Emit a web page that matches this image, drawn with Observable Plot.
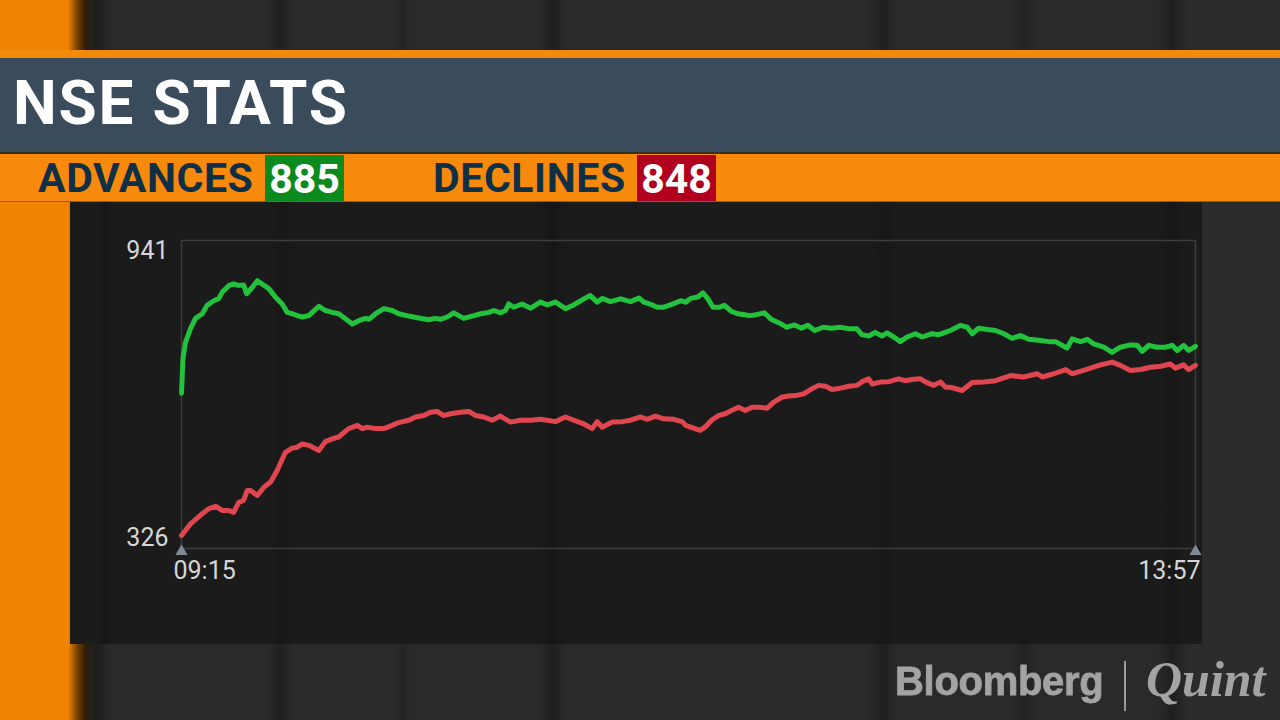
<!DOCTYPE html>
<html>
<head>
<meta charset="utf-8">
<script src="https://cdn.jsdelivr.net/npm/d3@7"></script>
<script src="https://cdn.jsdelivr.net/npm/@observablehq/plot@0.6"></script>
<style>
  html, body { margin: 0; padding: 0; }
  body { width: 1280px; height: 720px; overflow: hidden; position: relative; font-family: Roboto, "Noto Sans", sans-serif; }
  .bg { position: absolute; left: 0; top: 0; width: 1280px; height: 720px;
    background: linear-gradient(90deg, #2a2a2a 0px, #2a2a2a 88px, #1d1d1d 96px, #2a2a2a 110px, #2a2a2a 268px, #202020 280px, #2a2a2a 292px,
      #2a2a2a 395px, #232323 403px, #2a2a2a 411px, #2a2a2a 540px, #1e1e1e 553px, #2a2a2a 566px, #2a2a2a 868px, #1f1f1f 883px, #2a2a2a 898px,
      #2a2a2a 1012px, #212121 1024px, #2a2a2a 1036px, #2a2a2a 1158px, #1f1f1f 1172px, #2c2c2c 1190px, #2c2c2c 1280px); }
  .orange-left { position: absolute; left: 0; top: 0; width: 94px; height: 720px;
    background: linear-gradient(90deg, #f08400 0px, #f08400 68px, #7a4300 77px, #2a1a08 86px, rgba(30,30,30,0) 94px); }
  .topline { position: absolute; left: 0; top: 50px; width: 1280px; height: 8px; background: #f48a0a; }
  .slate { position: absolute; left: 0; top: 58px; width: 1280px; height: 94px; background: #3a4b5c; }
  .sep { position: absolute; left: 0; top: 152px; width: 1280px; height: 2px; background: #3a2d1c; }
  .band { position: absolute; left: 0; top: 154px; width: 1280px; height: 47px; background: #f7890c; border-bottom: 1px solid #a65a06; }
  .title { position: absolute; left: 13px; top: 67px; font: 700 62px Roboto, sans-serif; color: #ffffff; letter-spacing: 1.8px; line-height: 72px; }
  .lab { position: absolute; top: 154px; height: 47px; line-height: 47px; font: 700 41px Roboto, sans-serif; color: #0f2f47; letter-spacing: 0.6px; }
  .box { position: absolute; top: 155px; height: 46px; width: 79px; line-height: 46px; text-align: center; font: 700 41px Roboto, sans-serif; color: #ffffff; letter-spacing: 0px; }
  .panel { position: absolute; left: 70px; top: 202px; width: 1132px; height: 442px; background: #1b1b1b;
    background-image: linear-gradient(90deg, rgba(0,0,0,0) 0px, rgba(0,0,0,0) 28px, rgba(0,0,0,0.18) 36px, rgba(0,0,0,0) 44px,
      rgba(0,0,0,0) 200px, rgba(0,0,0,0.15) 212px, rgba(0,0,0,0) 224px, rgba(0,0,0,0) 470px, rgba(0,0,0,0.2) 483px, rgba(0,0,0,0) 496px,
      rgba(0,0,0,0) 800px, rgba(0,0,0,0.15) 813px, rgba(0,0,0,0) 826px, rgba(0,0,0,0) 1090px, rgba(0,0,0,0.15) 1102px, rgba(0,0,0,0) 1114px); }
  #chart { position: absolute; left: 70px; top: 202px; }
  .logo { position: absolute; color: #a3a3a3; filter: blur(0.5px); }
  .bb { left: 895px; font: 700 40px "Liberation Sans", Arial, sans-serif; letter-spacing: -0.3px; top: 659px; -webkit-text-stroke: 0.8px #a3a3a3; }
  .bar { position: absolute; left: 1124px; top: 661px; width: 2px; height: 50px; background: #9a9a9a; filter: blur(0.5px); }
  .qt { left: 1146px; font: italic 700 50px "Liberation Serif", "DejaVu Serif", serif; top: 650px; }
</style>
</head>
<body>
<div class="bg"></div>
<div class="orange-left"></div>
<div class="topline"></div>
<div class="slate"></div>
<div class="sep"></div>
<div class="band"></div>
<div class="title" id="title"></div>
<div class="lab" id="advLab" style="left:38px"></div>
<div class="box" id="advBox" style="left:265px;background:#0b8a1e"></div>
<div class="lab" id="decLab" style="left:433px"></div>
<div class="box" id="decBox" style="left:637px;background:#b0001e"></div>
<div class="panel"></div>
<div id="chart"></div>
<div class="logo bb">Bloomberg</div>
<div class="bar"></div>
<div class="logo qt">Quint</div>
<script>
// ---- Data ----
const titleText = "NSE STATS";
const advancesLabel = "ADVANCES";
const declinesLabel = "DECLINES";
const advancesCount = 885;
const declinesCount = 848;

// x = minutes after 09:15
const xTicks = [0, 282];
const xTickLabels = ["09:15", "13:57"];
const yTicks = [326, 941];

const advMinutes = [0,0.4,1.1,2.5,3.9,5.8,7.1,9.0,10.4,11.3,13.2,14.5,15.9,17.3,18.1,19.7,21.1,22.4,24.3,26.1,28.0,29.4,30.8,32.2,33.6,35.4,38.2,40.0,41.9,43.7,45.6,47.5,49.3,51.2,52.1,54.0,56.3,58.6,60.4,63.2,66.0,68.8,70.6,72.0,73.9,75.7,78.5,81.3,83.2,85.5,86.9,88.7,90.1,91.0,92.4,94.7,97.1,99.8,101.7,104.0,106.8,109.1,111.9,113.7,115.6,117.0,119.3,122.1,124.9,127.2,128.6,130.9,132.3,134.1,136.0,138.8,140.2,141.6,143.6,145.0,146.4,147.8,149.6,151.0,152.9,154.7,156.6,158.0,159.8,162.1,164.0,166.8,168.2,170.5,172.4,174.2,176.1,178.4,180.8,183.1,185.5,187.8,189.2,191.1,192.9,194.8,196.2,198.1,199.9,201.8,204.1,206.0,208.7,210.6,212.4,213.8,216.6,218.5,219.9,221.7,224.1,226.4,228.7,231.0,233.3,235.6,238.4,241.2,243.1,244.9,246.3,247.7,250.0,251.9,253.7,256.5,258.8,261.1,263.9,265.8,267.2,269.0,271.3,273.6,275.5,276.9,278.7,280.1,282];
const advValues = [634,709,743,773,795,805,823,833,838,851,866,869,866,867,848,862,876,869,859,841,826,808,805,801,798,801,821,812,808,805,794,783,790,795,793,805,816,812,805,800,796,792,795,793,798,807,795,801,805,808,812,807,812,826,819,826,817,830,824,830,816,824,837,844,830,838,831,837,831,839,830,824,819,819,824,833,830,838,841,850,837,819,819,823,810,805,803,801,803,807,793,783,776,781,774,780,769,776,774,776,773,773,760,757,765,757,764,755,745,755,762,755,762,760,765,769,780,776,762,774,771,769,762,752,758,750,748,745,745,737,731,751,745,750,740,733,722,733,738,737,724,737,733,733,737,726,737,726,735];

const decMinutes = [0,2.5,5.8,7.6,9.5,11.3,13.2,14.5,15.9,17.3,18.3,19.2,21.1,22.9,24.8,26.6,28.9,30.8,32.2,33.6,35.4,38.2,40.0,41.9,43.7,46.5,48.9,50.3,51.6,54.0,56.3,58.6,60.4,63.2,65.1,67.4,69.2,71.1,72.9,74.8,77.6,79.9,81.8,84.1,86.4,88.7,91.5,94.3,97.1,99.8,101.7,104.0,106.8,109.1,111.9,114.2,115.6,117.0,119.8,122.6,124.9,127.7,129.5,131.8,134.1,136.9,139.2,140.2,141.6,144.2,145.6,147.4,149.3,151.2,153.0,154.9,156.8,158.7,160.5,162.9,164.7,167.1,168.9,170.8,173.1,175.4,177.2,179.1,180.9,183.3,185.6,187.9,189.3,191.1,192.1,194.4,196.7,199.4,201.3,203.6,205.5,207.3,209.2,211.1,212.5,213.8,217.1,219.9,223.1,226.4,230.6,234.2,238.0,239.4,242.6,245.9,247.7,250.0,252.8,255.6,258.8,261.1,263.9,266.7,269.5,272.3,275.0,276.4,278.7,280.1,282];
const decValues = [328,353,375,386,391,382,382,378,399,404,425,425,414,432,443,468,507,516,518,525,522,511,530,536,540,558,565,558,561,558,558,565,571,576,583,586,593,595,586,590,593,595,586,583,576,585,572,576,576,578,576,573,583,576,568,558,573,561,572,573,576,583,578,585,579,578,573,565,561,554,561,576,586,590,597,604,597,604,604,602,615,626,628,629,633,644,651,649,642,645,649,651,659,665,654,658,659,665,661,664,665,657,651,658,647,647,640,657,658,661,672,669,676,669,676,685,676,681,688,695,701,694,683,685,690,692,697,688,695,685,694];

// ---- Header text ----
document.getElementById("title").textContent = titleText;
document.getElementById("advLab").textContent = advancesLabel;
document.getElementById("decLab").textContent = declinesLabel;
document.getElementById("advBox").textContent = advancesCount;
document.getElementById("decBox").textContent = declinesCount;

function zip(ms, vs) {
  const n = Math.min(ms.length, vs.length);
  const out = [];
  for (let i = 0; i < n; i++) out.push({m: ms[i], v: vs[i]});
  return out;
}
const adv = zip(advMinutes, advValues);
const dec = zip(decMinutes, decValues);
const labelOf = d => xTickLabels[xTicks.indexOf(d)];

const chart = Plot.plot({
  width: 1132,
  height: 442,
  marginLeft: 111,
  marginRight: 7,
  marginTop: 38,
  marginBottom: 96,
  style: {background: "transparent", color: "#d6d6d6", fontFamily: "Roboto, 'Noto Sans', sans-serif", overflow: "visible"},
  x: {domain: [0, 282], axis: null},
  y: {domain: [300.2, 962.5], axis: null},
  marks: [
    Plot.frame({stroke: "#3d3d3d", strokeWidth: 1.5}),
    Plot.axisY(yTicks, {tickSize: 0, tickPadding: 13, fontSize: 25, fill: "#d6d6d6", label: null, dy: 1}),
    Plot.text([xTicks[0]], {x: d => d, frameAnchor: "bottom", dy: 30, dx: -8, text: labelOf, textAnchor: "start", fontSize: 25, fill: "#d6d6d6"}),
    Plot.text([xTicks[1]], {x: d => d, frameAnchor: "bottom", dy: 30, dx: 5, text: labelOf, textAnchor: "end", fontSize: 25, fill: "#d6d6d6"}),
    Plot.dot(xTicks, {x: d => d, frameAnchor: "bottom", dy: 3, symbol: "triangle", r: 4.5, fill: "#7e8a96", stroke: "none"}),
    Plot.line(dec, {x: "m", y: "v", stroke: "#e0464f", strokeWidth: 5, strokeLinejoin: "round", strokeLinecap: "round"}),
    Plot.line(adv, {x: "m", y: "v", stroke: "#22c23c", strokeWidth: 5, strokeLinejoin: "round", strokeLinecap: "round"})
  ]
});
document.getElementById("chart").appendChild(chart);
</script>
</body>
</html>
